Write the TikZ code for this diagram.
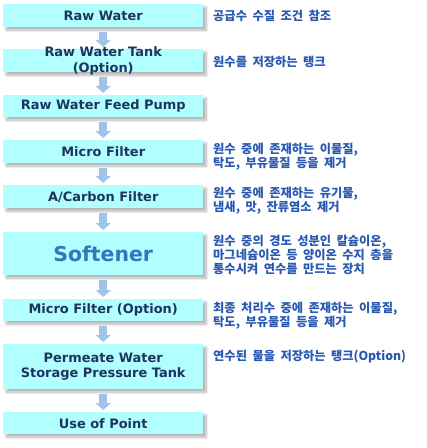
\documentclass[tikz,border=0pt]{standalone}
\usepackage{fontspec}
\setmainfont{DejaVu Sans}
\newfontfamily\kr{Noto Sans CJK KR}
\newcommand\krdesc{\kr\bfseries\fontsize{12.3}{14}\selectfont\spaceskip=5.5bp plus 1bp\relax}
\usetikzlibrary{shadows.blur,arrows.meta}
\definecolor{boxfill}{RGB}{178,255,255}
\definecolor{navy}{RGB}{30,52,96}
\definecolor{softblue}{RGB}{52,118,188}
\definecolor{descblue}{RGB}{40,88,178}
\definecolor{arrowblue}{RGB}{160,196,232}
\tikzset{
 stepbox/.style={fill=boxfill, minimum width=200bp, inner sep=0pt, anchor=north west,
   text=navy, font=\fontsize{13}{16}\selectfont\bfseries, align=center,
   blur shadow={shadow xshift=3bp, shadow yshift=-3bp, shadow blur steps=8, shadow blur radius=2.5bp, shadow opacity=30}},
 boxtext/.style={text=navy, font=\fontsize{13}{16}\selectfont\bfseries, align=center, inner sep=0pt},
 desc/.style={anchor=west, text=descblue, font=\krdesc, align=left, inner sep=0pt},
 flow/.style={draw=arrowblue, line width=7.5bp, -{Triangle[width=15bp,length=7bp]}}
}
\begin{document}
\begin{tikzpicture}[x=1bp,y=-1bp]
\useasboundingbox (0,0) rectangle (426,448);
\node[stepbox, minimum height=23bp] (b1) at (3,4) {Raw Water};
\node[stepbox, minimum height=23bp, label={[name=b2t, boxtext, yshift=-0.5bp]center:Raw Water Tank\\(Option)}] (b2) at (3,49) {};
\node[stepbox, minimum height=22bp] (b3) at (3,95) {Raw Water Feed Pump};
\node[stepbox, minimum height=23bp] (b4) at (3,140) {Micro Filter};
\node[stepbox, minimum height=23bp] (b5) at (3,185) {A/Carbon Filter};
\node[stepbox, minimum height=43bp, text=softblue, font=\fontsize{20.5}{24}\selectfont\bfseries] (b6) at (3,232) {Softener};
\node[stepbox, minimum height=22bp] (b7) at (3,299) {Micro Filter (Option)};
\node[stepbox, minimum height=45bp] (b8) at (3,344) {Permeate Water\\Storage Pressure Tank};
\node[stepbox, minimum height=22bp] (b9) at (3,412) {Use of Point};

\foreach \a/\b in {b1/b2,b2/b3,b3/b4,b4/b5,b5/b6,b6/b7,b7/b8,b8/b9}
  \draw[flow] ([yshift=-4.5bp]\a.south) -- ([yshift=2bp]\b.north);

\node[desc] (d1) at (213,15.5) {공급수 수질 조건 참조};
\node[desc] (d2) at (213,62) {원수를 저장하는 탱크};
\node[desc] (d4) at (213,157) {원수 중에 존재하는 이물질,\\탁도, 부유물질 등을 제거};
\node[desc] (d5) at (213,201) {원수 중에 존재하는 유기물,\\냄새, 맛, 잔류염소 제거};
\node[desc] (d6) at (213,255) {원수 중의 경도 성분인 칼슘이온,\\마그네슘이온 등 양이온 수지 층을\\통수시켜 연수를 만드는 장치};
\node[desc] (d7) at (213,315.5) {최종 처리수 중에 존재하는 이물질,\\탁도, 부유물질 등을 제거};
\node[desc] (d8) at (213,357) {연수된 물을 저장하는 탱크(Option)};
\end{tikzpicture}
\end{document}
